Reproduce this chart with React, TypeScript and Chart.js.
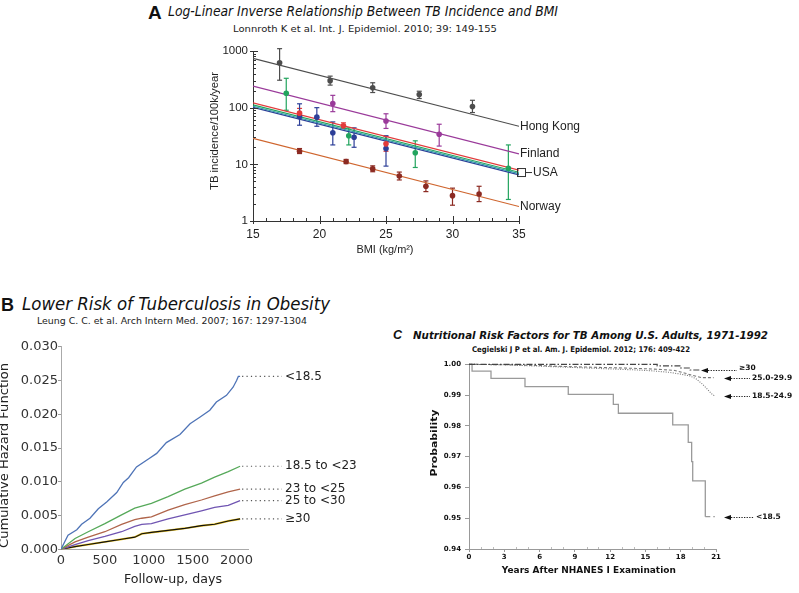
import React, { useEffect, useLayoutEffect, useRef } from "react";
import { Chart, registerables } from "chart.js";

Chart.register(...registerables);

const SANS = '"DejaVu Sans", Verdana, sans-serif';
const ARIAL = '"Liberation Sans", Arial, Helvetica, sans-serif';

// ================= Panel A data (log-linear, TB incidence vs BMI) =================
const aLineBmi = [15, 35];
const aHongKongLine = [742, 47];
const aFinlandLine = [240, 15.3];
const aUsaRedLine = [122, 7.9];
const aUsaGreenLine = [112, 7.25];
const aUsaTealLine = [106, 6.85];
const aUsaBlueLine = [101, 6.5];
const aNorwayLine = [28.7, 1.8];

const aHongKongBmi = [17, 20.8, 24, 27.5, 31.5];
const aHongKongInc = [620, 300, 225, 170, 105];
const aHongKongLow = [305, 250, 185, 145, 82];
const aHongKongHigh = [1100, 360, 275, 195, 135];

const aFinlandBmi = [21, 25, 29];
const aFinlandInc = [118, 58, 34];
const aFinlandLow = [85, 43, 21];
const aFinlandHigh = [165, 78, 51];

const aUsaRedBmi = [18.5, 21.8, 25];
const aUsaRedInc = [80, 48, 23];
const aUsaRedLow = [68, 43, 17];
const aUsaRedHigh = [97, 54, 31];

const aUsaGreenBmi = [17.5, 22.2, 27.2, 34.2];
const aUsaGreenInc = [180, 32, 16, 8.5];
const aUsaGreenLow = [90, 22, 8.8, 2.4];
const aUsaGreenHigh = [330, 44, 26, 22];

const aUsaBlueBmi = [18.5, 19.8, 21, 22.6, 25];
const aUsaBlueInc = [70, 68, 36, 30, 19];
const aUsaBlueLow = [49, 47, 22, 20, 9.3];
const aUsaBlueHigh = [117, 100, 56, 44, 32];

const aNorwayBmi = [18.5, 22, 24, 26, 28, 30, 32];
const aNorwayInc = [17, 11.2, 8.3, 6.2, 4.1, 2.8, 3.0];
const aNorwayLow = [15.5, 10.3, 7.4, 5.3, 3.3, 1.9, 2.2];
const aNorwayHigh = [19, 12.2, 9.4, 7.3, 5.1, 3.8, 4.1];

const aXTicks = [15, 20, 25, 30, 35];
const aYTicks = [1, 10, 100, 1000];
const aCountryLabels = ["Hong Kong", "Finland", "USA", "Norway"];

// ================= Panel B data (cumulative hazard) =================
const bDaysLow = [0, 80, 180, 235, 330, 425, 520, 635, 710, 770, 860, 1000, 1090, 1200, 1355, 1470, 1585, 1695, 1770, 1885, 1960, 2000, 2020, 2040];
const bLow = [0, 0.0021, 0.0029, 0.0037, 0.0046, 0.006, 0.007, 0.0084, 0.0099, 0.0106, 0.0122, 0.0134, 0.0142, 0.0158, 0.017, 0.0186, 0.0196, 0.0206, 0.0218, 0.0228, 0.024, 0.025, 0.0256, 0.0256];
const bDaysOther = [0, 160, 310, 500, 690, 840, 920, 1030, 1220, 1410, 1600, 1750, 1905, 2040];
const bNormal = [0, 0.0016, 0.0026, 0.0038, 0.0051, 0.0061, 0.0064, 0.0068, 0.0078, 0.0089, 0.0098, 0.0107, 0.0115, 0.0123];
const bUpperNormal = [0, 0.0011, 0.0018, 0.0026, 0.0037, 0.0044, 0.0046, 0.0048, 0.0058, 0.0066, 0.0073, 0.0079, 0.0085, 0.0089];
const bOverweight = [0, 0.0007, 0.0013, 0.0019, 0.0026, 0.0034, 0.0037, 0.0038, 0.0045, 0.0051, 0.0057, 0.0062, 0.0065, 0.0072];
const bObese = [0, 0.0004, 0.0007, 0.0011, 0.0015, 0.0018, 0.0023, 0.0025, 0.0028, 0.0031, 0.0035, 0.0037, 0.0042, 0.0045];
const bLabels = ["<18.5", "18.5 to <23", "23 to <25", "25 to <30", "≥30"];
const bXTicks = [0, 500, 1000, 1500, 2000];
const bYTicks = [0, 0.005, 0.01, 0.015, 0.02, 0.025, 0.03];

// ================= Panel C data (survival probability) =================
const cLowYears = [0, 0.26, 1.87, 4.76, 8.44, 12.27, 12.7, 17.32, 18.64, 18.93, 19.02, 20.09, 20.9];
const cLowProb = [1.0, 0.9978, 0.99545, 0.99272, 0.99025, 0.987, 0.9841, 0.9803, 0.97466, 0.96836, 0.9621, 0.9505, 0.9505];
const cNormalYears = [0, 3, 4.5, 6, 8, 10, 12, 14, 15.5, 17, 18, 18.8, 19.3, 19.8, 20.2, 20.6, 20.9];
const cNormalProb = [1.0, 0.99985, 0.9996, 0.9994, 0.9991, 0.9988, 0.9985, 0.9982, 0.9979, 0.9974, 0.9968, 0.9962, 0.9953, 0.9937, 0.9922, 0.9905, 0.9897];
const cOverYears = [0, 4, 6, 8, 10, 12, 14, 16, 17.5, 18.3, 19.0, 19.8, 20.8];
const cOverProb = [1.0, 0.9998, 0.9996, 0.9993, 0.9991, 0.9989, 0.9987, 0.9984, 0.998, 0.9972, 0.9964, 0.99566, 0.99566];
const cObeseYears = [0, 16.0, 18.0, 18.8, 19.64];
const cObeseProb = [1.0, 0.9995, 0.9988, 0.99815, 0.99815];
const cLabels = ["≥30", "25.0-29.9", "18.5-24.9", "<18.5"];
const cXTicks = [0, 3, 6, 9, 12, 15, 18, 21];
const cYTicks = [0.94, 0.95, 0.96, 0.97, 0.98, 0.99, 1.0];

// ================= helpers =================
const pts = (xs: number[], ys: number[]) => xs.map((x, i) => ({ x, y: ys[i] }));

function fitText(ctx: CanvasRenderingContext2D, text: string, x: number, y: number, font: string, width: number | null, align: CanvasTextAlign = "left", rot = 0, color = "#222") {
  ctx.save();
  ctx.font = font;
  ctx.fillStyle = color;
  ctx.textBaseline = "middle";
  ctx.textAlign = align;
  const m = ctx.measureText(text).width;
  const sx = width && m > 0 ? width / m : 1;
  ctx.translate(x, y);
  if (rot) ctx.rotate(rot);
  ctx.scale(sx, 1);
  ctx.fillText(text, 0, 0);
  ctx.restore();
}

function line(ctx: CanvasRenderingContext2D, x1: number, y1: number, x2: number, y2: number) {
  ctx.beginPath();
  ctx.moveTo(x1, y1);
  ctx.lineTo(x2, y2);
  ctx.stroke();
}

// ================= Panel A config =================
const aColors = { hk: "#4d4d4d", fin: "#9a3a9a", red: "#e23b3b", green: "#22a45e", teal: "#2f98a8", blue: "#2d3f98", norwayLine: "#cf652e", norwayPts: "#8c2a22" };

const aGroups = [
  { color: aColors.norwayPts, x: aNorwayBmi, y: aNorwayInc, lo: aNorwayLow, hi: aNorwayHigh },
  { color: aColors.hk, x: aHongKongBmi, y: aHongKongInc, lo: aHongKongLow, hi: aHongKongHigh },
  { color: aColors.fin, x: aFinlandBmi, y: aFinlandInc, lo: aFinlandLow, hi: aFinlandHigh },
  { color: aColors.red, x: aUsaRedBmi, y: aUsaRedInc, lo: aUsaRedLow, hi: aUsaRedHigh },
  { color: aColors.green, x: aUsaGreenBmi, y: aUsaGreenInc, lo: aUsaGreenLow, hi: aUsaGreenHigh },
  { color: aColors.blue, x: aUsaBlueBmi, y: aUsaBlueInc, lo: aUsaBlueLow, hi: aUsaBlueHigh },
];
const aLines = [
  { color: aColors.hk, y: aHongKongLine },
  { color: aColors.fin, y: aFinlandLine },
  { color: aColors.red, y: aUsaRedLine },
  { color: aColors.green, y: aUsaGreenLine },
  { color: aColors.teal, y: aUsaTealLine },
  { color: aColors.blue, y: aUsaBlueLine },
  { color: aColors.norwayLine, y: aNorwayLine },
];

const panelAPlugin = {
  id: "panelA",
  beforeDatasetsDraw(chart: any) {
    const { ctx, scales } = chart;
    const { x, y } = scales;
    ctx.save();
    ctx.lineWidth = 1.2;
    for (const g of aGroups) {
      ctx.strokeStyle = g.color;
      g.x.forEach((bx: number, i: number) => {
        const px = x.getPixelForValue(bx);
        const p1 = y.getPixelForValue(g.lo[i]);
        const p2 = y.getPixelForValue(g.hi[i]);
        line(ctx, px, p1, px, p2);
        line(ctx, px - 2.5, p1, px + 2.5, p1);
        line(ctx, px - 2.5, p2, px + 2.5, p2);
      });
    }
    ctx.restore();
  },
  afterDraw(chart: any) {
    const { ctx, scales, chartArea } = chart;
    const { x, y } = scales;
    const { left, right, bottom } = chartArea;
    ctx.save();
    ctx.strokeStyle = "#333";
    ctx.lineWidth = 1;
    for (let v = 15; v <= 35; v++) {
      const px = Math.round(x.getPixelForValue(v)) + 0.5;
      const major = v % 5 === 0;
      line(ctx, px, bottom, px, bottom - (major ? 5 : 3));
      if (major) line(ctx, px, bottom, px, bottom + 3);
    }
    for (let d = 1; d <= 1000; d *= 10) {
      for (let m = 1; m <= 9; m++) {
        const v = d * m;
        if (v > 1000) break;
        const py = Math.round(y.getPixelForValue(v)) + 0.5;
        const major = m === 1;
        line(ctx, left, py, left + (major ? 5 : 3), py);
        if (major) line(ctx, left, py, left - 3, py);
      }
    }
    const f = `12px ${ARIAL}`;
    const hkY = y.getPixelForValue(aHongKongLine[1]);
    const finY = y.getPixelForValue(aFinlandLine[1]);
    const usaY = y.getPixelForValue(Math.sqrt(aUsaRedLine[1] * aUsaBlueLine[1]));
    const norY = y.getPixelForValue(aNorwayLine[1]);
    fitText(ctx, aCountryLabels[0], right + 1, hkY, f, null);
    fitText(ctx, aCountryLabels[1], right + 1, finY, f, null);
    ctx.strokeStyle = "#333";
    ctx.strokeRect(right - 1.5, usaY - 4, 8, 8);
    line(ctx, right + 6.5, usaY, right + 13, usaY);
    fitText(ctx, aCountryLabels[2], right + 14, usaY, f, null);
    fitText(ctx, aCountryLabels[3], right + 1, norY, f, null);
    fitText(ctx, "BMI (kg/m²)", (left + right) / 2 - 1, 211.5, `11px ${ARIAL}`, 57, "center");
    fitText(ctx, "TB incidence/100k/year", 20, 93, `11px ${ARIAL}`, 118, "center", -Math.PI / 2);
    ctx.restore();
  },
};

function makeConfigA(): any {
  const datasets: any[] = [];
  aGroups.forEach((g) =>
    datasets.push({ data: pts(g.x, g.y), pointRadius: 2.8, pointBackgroundColor: g.color, pointBorderWidth: 0, showLine: false, order: 0 })
  );
  aLines.forEach((l) =>
    datasets.push({ data: pts(aLineBmi, l.y), borderColor: l.color, borderWidth: 1.2, pointRadius: 0, showLine: true, order: 1 })
  );
  return {
    type: "scatter",
    data: { datasets },
    options: {
      animation: false,
      responsive: false,
      devicePixelRatio: 1,
      layout: { padding: { top: 13, right: 81, left: 0, bottom: 0 } },
      plugins: { legend: { display: false }, tooltip: { enabled: false } },
      scales: {
        x: {
          type: "linear", min: 15, max: 35,
          afterBuildTicks: (s: any) => { s.ticks = aXTicks.map((value) => ({ value })); },
          afterFit: (s: any) => { s.height = 42; },
          ticks: { font: { family: ARIAL, size: 12 }, color: "#222", padding: 6, maxRotation: 0, callback: (v: any) => String(v) },
          grid: { display: false, drawTicks: false },
          border: { display: true, color: "#333", width: 1 },
        },
        y: {
          type: "logarithmic", min: 1, max: 1000,
          afterBuildTicks: (s: any) => { s.ticks = aYTicks.map((value) => ({ value })); },
          afterFit: (s: any) => { s.width = 58; },
          ticks: { font: { family: ARIAL, size: 11.5 }, color: "#222", padding: 5, callback: (v: any) => String(v) },
          grid: { display: false, drawTicks: false },
          border: { display: true, color: "#333", width: 1 },
        },
      },
    },
    plugins: [panelAPlugin],
  };
}

// ================= Panel B config =================
const bSeries = [
  { x: bDaysLow, y: bLow, color: "#4f74b7" },
  { x: bDaysOther, y: bNormal, color: "#56a95a" },
  { x: bDaysOther, y: bUpperNormal, color: "#b0654b" },
  { x: bDaysOther, y: bOverweight, color: "#7055b2" },
  { x: bDaysOther, y: bObese, color: "#111111" },
];

const panelBPlugin = {
  id: "panelB",
  afterDraw(chart: any) {
    const { ctx, scales, chartArea } = chart;
    const { x, y } = scales;
    ctx.save();
    ctx.strokeStyle = "#555";
    ctx.lineWidth = 1.2;
    ctx.setLineDash([1.2, 3.2]);
    const tx = chartArea.right + 37;
    bSeries.forEach((s, i) => {
      const lx = x.getPixelForValue(s.x[s.x.length - 1]);
      const ly = y.getPixelForValue(s.y[s.y.length - 1]);
      line(ctx, lx + 2, ly, tx - 3, ly);
      fitText(ctx, bLabels[i], tx, ly, `12px ${SANS}`, null, "left", 0, "#222");
    });
    ctx.setLineDash([]);
    fitText(ctx, "Follow-up, days", 173, 245, `12.5px ${SANS}`, 98, "center", 0, "#222");
    fitText(ctx, "Cumulative Hazard Function", 4.5, 120.5, `13px ${SANS}`, 185, "center", -Math.PI / 2, "#222");
    ctx.restore();
  },
};

function makeConfigB(): any {
  const datasets: any[] = [];
  bSeries.forEach((s, i) => {
    if (i === 4) {
      datasets.push({ data: pts(s.x, s.y), borderColor: "#e9c21f", borderWidth: 2.0, pointRadius: 0, tension: 0, order: 2 });
    }
    datasets.push({ data: pts(s.x, s.y), borderColor: s.color, borderWidth: i === 4 ? 1.1 : 1.3, pointRadius: 0, tension: 0, order: 1 });
  });
  return {
    type: "line",
    data: { datasets },
    options: {
      animation: false,
      responsive: false,
      devicePixelRatio: 1,
      layout: { padding: { top: 11.7, right: 152, left: 0, bottom: 0 } },
      plugins: { legend: { display: false }, tooltip: { enabled: false } },
      scales: {
        x: {
          type: "linear", min: 0, max: 2130,
          afterBuildTicks: (s: any) => { s.ticks = bXTicks.map((value) => ({ value })); },
          afterFit: (s: any) => { s.height = 43.7; },
          ticks: { font: { family: SANS, size: 13 }, color: "#333", padding: 4, maxRotation: 0, callback: (v: any) => String(v) },
          grid: { display: false, drawTicks: false },
          border: { display: true, color: "#aaa", width: 1 },
        },
        y: {
          type: "linear", min: 0, max: 0.03,
          afterBuildTicks: (s: any) => { s.ticks = bYTicks.map((value) => ({ value })); },
          afterFit: (s: any) => { s.width = 61; },
          ticks: { font: { family: SANS, size: 13 }, color: "#333", padding: 0, callback: (v: any) => Number(v).toFixed(3) },
          grid: { drawOnChartArea: false, drawTicks: true, tickLength: 3, color: "#999" },
          border: { display: true, color: "#aaa", width: 1 },
        },
      },
    },
    plugins: [panelBPlugin],
  };
}

// ================= Panel C config =================
const cSeries = [
  { x: cObeseYears, y: cObeseProb },
  { x: cOverYears, y: cOverProb },
  { x: cNormalYears, y: cNormalProb },
  { x: cLowYears, y: cLowProb },
];

const panelCPlugin = {
  id: "panelC",
  afterDraw(chart: any) {
    const { ctx, scales, chartArea } = chart;
    const { x, y } = scales;
    const { right, bottom } = chartArea;
    ctx.save();
    ctx.strokeStyle = "#bbb";
    ctx.lineWidth = 1;
    for (let v = 1; v < 21; v++) {
      if (v % 3 === 0) continue;
      const px = Math.round(x.getPixelForValue(v)) + 0.5;
      line(ctx, px, bottom, px, bottom - 2);
    }
    const tipOffsets = [null, 8, 8, 8];
    const textOffsets = [23, 36, 36, 40];
    cSeries.forEach((s, i) => {
      const ly = Math.round(y.getPixelForValue(s.y[s.y.length - 1])) + 0.5;
      const tip = tipOffsets[i] === null ? x.getPixelForValue(s.x[s.x.length - 1]) + 1 : right + (tipOffsets[i] as number);
      const tx = right + textOffsets[i];
      ctx.fillStyle = "#111";
      ctx.beginPath();
      ctx.moveTo(tip, ly);
      ctx.lineTo(tip + 7, ly - 2.6);
      ctx.lineTo(tip + 7, ly + 2.6);
      ctx.closePath();
      ctx.fill();
      ctx.strokeStyle = "#222";
      ctx.lineWidth = 1;
      ctx.setLineDash([1.3, 1.3]);
      line(ctx, tip + 7, ly, tx - 2, ly);
      ctx.setLineDash([]);
      fitText(ctx, cLabels[i], tx, ly - (i === 0 ? 2 : 0), `bold 7.5px ${SANS}`, null, "left", 0, "#111");
    });
    fitText(ctx, "Years After NHANES I Examination", 188.8, 216, `bold 9px ${SANS}`, 174, "center", 0, "#111");
    fitText(ctx, "Probability", 35, 88, `bold 9px ${SANS}`, 67, "center", -Math.PI / 2, "#111");
    ctx.restore();
  },
};

function makeConfigC(): any {
  const styles = [
    { color: "#444", dash: [6, 2, 1.5, 2], width: 1.2, stepped: true },
    { color: "#777", dash: [3, 2], width: 1.1, stepped: false },
    { color: "#777", dash: [1, 1.4], width: 1.1, stepped: false },
    { color: "#9a9a9a", dash: [], width: 1.3, stepped: true },
  ];
  const datasets = cSeries.map((s, i) => {
    const st = styles[i];
    const n = s.x.length;
    const ds: any = {
      data: pts(s.x, s.y),
      borderColor: st.color,
      borderWidth: st.width,
      borderDash: st.dash,
      pointRadius: 0,
      stepped: st.stepped,
      tension: 0,
      clip: 4,
    };
    if (i === 3) {
      ds.segment = { borderDash: (c: any) => (c.p0DataIndex === n - 2 ? [5, 3] : undefined) };
    }
    return ds;
  });
  return {
    type: "line",
    data: { datasets },
    options: {
      animation: false,
      responsive: false,
      devicePixelRatio: 1,
      layout: { padding: { top: 9.3, right: 83, left: 0, bottom: 0 } },
      plugins: { legend: { display: false }, tooltip: { enabled: false } },
      scales: {
        x: {
          type: "linear", min: 0, max: 21,
          afterBuildTicks: (s: any) => { s.ticks = cXTicks.map((value) => ({ value })); },
          afterFit: (s: any) => { s.height = 44; },
          ticks: { font: { family: SANS, size: 7, weight: "bold" }, color: "#111", padding: 1, maxRotation: 0, callback: (v: any) => String(v) },
          grid: { drawOnChartArea: false, drawTicks: true, tickLength: 3, color: "#999" },
          border: { display: true, color: "#999", width: 1 },
        },
        y: {
          type: "linear", min: 0.94, max: 1.0,
          afterBuildTicks: (s: any) => { s.ticks = cYTicks.map((value) => ({ value })); },
          afterFit: (s: any) => { s.width = 69; },
          ticks: { font: { family: SANS, size: 7, weight: "bold" }, color: "#111", padding: 4, callback: (v: any) => Number(v).toFixed(2) },
          grid: { drawOnChartArea: false, drawTicks: true, tickLength: 4, color: "#999" },
          border: { display: true, color: "#999", width: 1 },
        },
      },
    },
    plugins: [panelCPlugin],
  };
}

// ================= React components =================
function ChartBox({ left, top, width, height, make }: { left: number; top: number; width: number; height: number; make: () => any }) {
  const ref = useRef<HTMLCanvasElement>(null);
  useEffect(() => {
    const chart = new Chart(ref.current as HTMLCanvasElement, make());
    return () => chart.destroy();
  }, []);
  return <canvas ref={ref} width={width} height={height} style={{ position: "absolute", left, top, width, height }} />;
}

function T({ x, base, size, family, weight = "normal", italic = false, width, color = "#111", children }: any) {
  const ref = useRef<HTMLSpanElement>(null);
  useLayoutEffect(() => {
    const el = ref.current;
    if (!el || !width) return;
    el.style.transform = "none";
    const w = el.getBoundingClientRect().width;
    if (w > 0) el.style.transform = `scaleX(${width / w})`;
  }, [width, children]);
  return (
    <span
      ref={ref}
      style={{
        position: "absolute",
        left: x,
        top: base - 0.846 * size,
        fontSize: size,
        lineHeight: `${size}px`,
        fontFamily: family,
        fontWeight: weight,
        fontStyle: italic ? "italic" : "normal",
        whiteSpace: "nowrap",
        transformOrigin: "0 0",
        color,
        display: "block",
      }}
    >
      {children}
    </span>
  );
}

export default function App() {
  return (
    <div style={{ position: "absolute", left: 0, top: 0, width: 799, height: 593, background: "#fff", overflow: "hidden" }}>
      <T x={148} base={19} size={19} family={ARIAL} weight="bold">A</T>
      <T x={168} base={16.2} size={14} family={SANS} italic width={390}>Log-Linear Inverse Relationship Between TB Incidence and BMI</T>
      <T x={233} base={32.3} size={9} family={SANS} width={264} color="#222">Lonnroth K et al. Int. J. Epidemiol. 2010; 39: 149-155</T>

      <T x={1} base={311} size={18} family={ARIAL} weight="bold">B</T>
      <T x={21.7} base={311} size={17.4} family={SANS} italic width={308}>Lower Risk of Tuberculosis in Obesity</T>
      <T x={37} base={324.3} size={8.5} family={SANS} width={270} color="#222">Leung C. C. et al. Arch Intern Med. 2007; 167: 1297-1304</T>

      <T x={393} base={339.3} size={12.5} family={ARIAL} weight="bold" italic>C</T>
      <T x={412.7} base={339.3} size={11} family={SANS} weight="bold" italic width={355}>Nutritional Risk Factors for TB Among U.S. Adults, 1971-1992</T>
      <T x={471.7} base={352.3} size={7.8} family={SANS} weight="bold" width={218}>Cegielski J P et al. Am. J. Epidemiol. 2012; 176: 409-422</T>

      <ChartBox left={195} top={38} width={405} height={225} make={makeConfigA} />
      <ChartBox left={0} top={335} width={400} height={258} make={makeConfigB} />
      <ChartBox left={400} top={355} width={399} height={238} make={makeConfigC} />
    </div>
  );
}
